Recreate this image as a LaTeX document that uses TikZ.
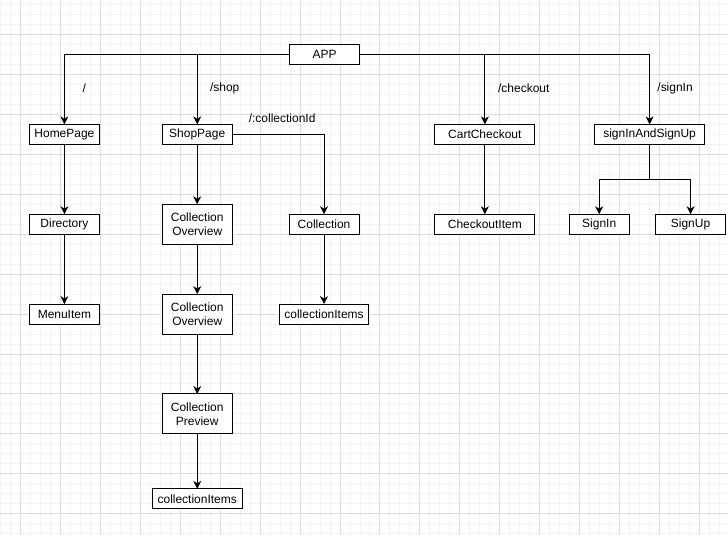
\documentclass[tikz,border=0pt]{standalone}
\usepackage{fontspec}
\setmainfont{Liberation Sans}
\usepackage{tikz}
\usetikzlibrary{arrows.meta,positioning,calc}
\usepackage{xcolor}
\definecolor{gridminor}{HTML}{F4F4F4}
\definecolor{gridmajor}{HTML}{DCDCDC}
\tikzset{
    routebox/.style={draw, line width=1pt, fill=white, align=center, font=\fontsize{12}{14}\selectfont, minimum width=70pt, minimum height=20pt, inner sep=1pt, outer sep=0pt},
    routetall/.style={routebox, minimum height=40pt},
    routearrow/.style={-{Stealth[length=8pt, width=8pt, inset=2.5pt]}, line width=1pt},
    routeline/.style={line width=1pt},
    routenote/.style={font=\fontsize{12}{14}\selectfont, inner sep=0pt}
}

\begin{document}
\begin{tikzpicture}[x=1pt, y=-1pt, node distance=70pt and 60pt]
        % background grid
        \fill[white] (0,0) rectangle (728,535);
        \foreach \x in {0,10,...,720} \draw[gridminor, line width=1pt] (\x,0) -- (\x,535);
        \foreach \y in {4,14,...,534} \draw[gridminor, line width=1pt] (0,\y) -- (728,\y);
        \foreach \x in {20,60,...,700} \draw[gridmajor, line width=1pt] (\x,0) -- (\x,535);
        \foreach \y in {34,74,...,514} \draw[gridmajor, line width=1pt] (0,\y) -- (728,\y);
        \useasboundingbox (0,0) rectangle (728,535);

        \node[routebox] (app) at (324.5,54) {APP};
        \node[routebox] (home) at (64,134) {HomePage};
        \node[routebox] (shop) at (197,134) {ShopPage};
        \node[routebox, minimum width=100pt] (cart) at (485,134) {CartCheckout};
        \node[routebox, minimum width=110pt] (sign) at (650,134) {signInAndSignUp};

        \node[routebox, below=of home] (directory) {Directory};
        \node[routebox, below=of directory] (menuitem) {MenuItem};

        \node[routetall, below=60pt of shop] (overviewa) {Collection\\Overview};
        \node[routetall, below=50pt of overviewa] (overviewb) {Collection\\Overview};
        \node[routetall, below=60pt of overviewb] (preview) {Collection\\Preview};
        \node[routebox, minimum width=90pt, below=55pt of preview] (shopitems) {collectionItems};

        \node[routebox, right=57pt of overviewa] (collection) {Collection};
        \node[routebox, minimum width=90pt, below=of collection] (collitems) {collectionItems};

        \node[routebox, minimum width=100pt, below=of cart] (checkoutitem) {CheckoutItem};
        \node[routebox, minimum width=60pt] (signin) at (599.5,224) {SignIn};
        \node[routebox] (signup) at (691,224) {SignUp};

        % route labels
        \node[routenote] (lblhome) at (84,88) {/};
        \node[routenote] (lblshop) at (224.5,88) {/shop};
        \node[routenote] (lblcoll) at (282,118) {/:collectionId};
        \node[routenote] (lblcheckout) at (524,88) {/checkout};
        \node[routenote] (lblsign) at (675.5,88) {/signIn};

        \draw[routearrow] (app.west) -| (home);
        \draw[routearrow] (app.west) -| (shop);
        \draw[routearrow] (app.east) -| (cart);
        \draw[routearrow] (app.east) -| (sign);

        \draw[routearrow] (home) -- (directory);
        \draw[routearrow] (directory) -- (menuitem);

        \draw[routearrow] (shop) -- (overviewa);
        \draw[routearrow] (overviewa) -- (overviewb);
        \draw[routearrow] (overviewb) -- (preview);
        \draw[routearrow] (preview) -- (shopitems);

        \draw[routearrow] (shop.east) -| (collection);
        \draw[routearrow] (collection) -- (collitems);

        \draw[routearrow] (cart) -- (checkoutitem);
        \draw[routearrow] (sign.south) -- ++(0,35) -| (signin);
        \draw[routearrow] (sign.south) -- ++(0,35) -| (signup);
    \end{tikzpicture}
\end{document}
